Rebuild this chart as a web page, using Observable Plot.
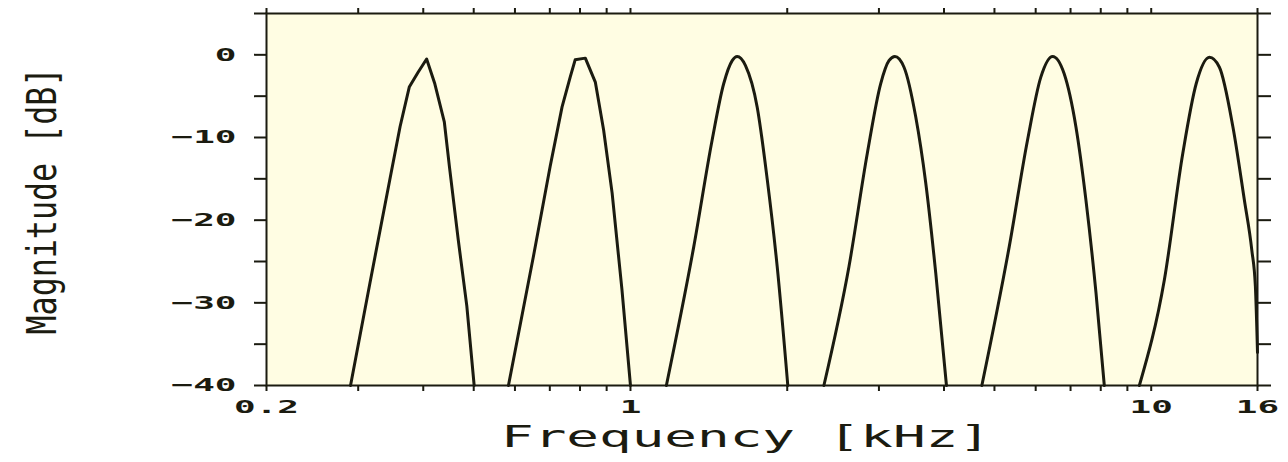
<!DOCTYPE html>
<html>
<head>
<meta charset="utf-8">
<script src="https://cdn.jsdelivr.net/npm/d3@7"></script>
<script src="https://cdn.jsdelivr.net/npm/@observablehq/plot@0.6"></script>
<style>
  html, body { margin: 0; padding: 0; background: #ffffff; }
  #chart svg { display: block; }
</style>
</head>
<body>
<div id="chart"></div>
<script>
// ---- Data ----
const band1Freq = [0.290, 0.316, 0.345, 0.361, 0.376, 0.391, 0.406, 0.421, 0.439, 0.449, 0.467, 0.485, 0.501];
const band1Db   = [-40, -27.6, -15.1, -8.7, -3.9, -2.1, -0.5, -3.5, -8.1, -13.5, -22.4, -30.4, -40];

const band2Freq = [0.583, 0.651, 0.701, 0.739, 0.766, 0.783, 0.819, 0.856, 0.888, 0.922, 0.963, 1.0];
const band2Db   = [-40, -24.4, -13.5, -6.3, -2.7, -0.6, -0.4, -3.3, -9.1, -16.7, -28.4, -40];

const band3Freq = [1.172, 1.323, 1.435, 1.510, 1.568, 1.603, 1.663, 1.751, 1.831, 1.913, 2.005];
const band3Db   = [-40, -23.2, -10.3, -3.5, -0.7, -0.2, -1.3, -6.3, -15.1, -25.6, -40];

const band4Freq = [2.352, 2.628, 2.850, 3.023, 3.136, 3.220, 3.352, 3.530, 3.690, 3.857, 4.044];
const band4Db   = [-40, -25.6, -11.9, -3.5, -0.7, -0.2, -1.5, -7.5, -15.5, -26.4, -40];

const band5Freq = [4.729, 5.338, 5.788, 6.138, 6.466, 6.806, 7.168, 7.494, 7.834, 8.127];
const band5Db   = [-40, -23.2, -10.3, -2.7, -0.2, -2.3, -8.7, -17.6, -28.8, -40];

const band6Freq = [9.49, 10.60, 11.50, 12.20, 12.94, 13.52, 14.35, 15.10, 15.60, 15.85, 16.0];
const band6Db   = [-40, -27.2, -11.9, -3.5, -0.3, -1.5, -8.7, -17.6, -23.6, -28.0, -36];

const xTickLabels = [0.2, 1, 10, 16];
const xTickMarks  = [0.2, 0.3, 0.4, 0.5, 0.6, 0.7, 0.8, 0.9, 1, 2, 3, 4, 5, 6, 7, 8, 9, 10, 16];
const yTickLabels = [0, -10, -20, -30, -40];
const yTickMarks  = [5, 0, -5, -10, -15, -20, -25, -30, -35, -40];

const xTitle = "Frequency [kHz]";
const yTitle = "Magnitude [dB]";

// ---- Build tables ----
function band(name, f, db) { return f.map((v, i) => ({band: name, freq: v, db: db[i]})); }
const jagged = [...band("b1", band1Freq, band1Db), ...band("b2", band2Freq, band2Db)];
const smooth = [
  ...band("b3", band3Freq, band3Db),
  ...band("b4", band4Freq, band4Db),
  ...band("b5", band5Freq, band5Db),
  ...band("b6", band6Freq, band6Db)
];

const ink = "#1b1b10";
const paper = "#fffde3";

const chart = Plot.plot({
  width: 1288,
  height: 462,
  marginLeft: 266,
  marginRight: 31,
  marginTop: 13,
  marginBottom: 77,
  style: {background: "#ffffff", color: ink, fontFamily: "'DejaVu Sans Mono', monospace", fontSize: "18px"},
  x: {type: "log", domain: [0.2, 16]},
  y: {domain: [-40, 5]},
  marks: [
    Plot.frame({fill: paper, stroke: "none"}),
    // left axis: labels + ticks
    Plot.axisY({ticks: yTickMarks, tickSize: 12, tickFormat: () => "", label: null, strokeWidth: 2}),
    Plot.axisY({ticks: yTickLabels, tickSize: 0, tickPadding: 30, label: null, fontWeight: "bold",
      tickFormat: d => d < 0 ? "\u2212" + (-d) : String(d)}),
    // right axis ticks
    Plot.axisY({anchor: "right", ticks: yTickMarks, tickSize: 13, tickFormat: () => "", label: null, strokeWidth: 2}),
    // bottom axis
    Plot.axisX({ticks: xTickMarks, tickSize: 6, tickFormat: () => "", label: null, strokeWidth: 2}),
    Plot.axisX({ticks: xTickLabels, tickSize: 0, tickPadding: 15, label: null, fontWeight: "bold",
      tickFormat: d => String(d)}),
    // top axis ticks
    Plot.axisX({anchor: "top", ticks: xTickMarks, tickSize: 6, tickFormat: () => "", label: null, strokeWidth: 2}),
    // filter responses
    Plot.line(jagged, {x: "freq", y: "db", z: "band", stroke: ink, strokeWidth: 3, curve: "linear"}),
    Plot.line(smooth, {x: "freq", y: "db", z: "band", stroke: ink, strokeWidth: 3, curve: "monotone-x"}),
    Plot.frame({stroke: ink, strokeWidth: 2}),
    // axis titles
    Plot.text([xTitle], {text: d => d, frameAnchor: "bottom", dx: -16, dy: 61, fontSize: 30, fill: ink}),
    Plot.text([yTitle], {text: d => d, frameAnchor: "left", fontSize: 26, fill: ink})
  ]
});

document.getElementById("chart").appendChild(chart);

// Plotter-style wide lettering: stretch the real text
d3.select(chart).selectAll("text").each(function () {
  const t = this.textContent;
  if (!t) return;
  const w = this.getComputedTextLength();
  if (t === xTitle) {
    this.setAttribute("textLength", 490);
    this.setAttribute("lengthAdjust", "spacingAndGlyphs");
  } else if (t === yTitle) {
    const g = this.parentNode;
    if (g && g.tagName.toLowerCase() === "g") g.removeAttribute("transform");
    ["x", "y", "dx", "dy"].forEach(a => this.removeAttribute(a));
    this.setAttribute("text-anchor", "middle");
    this.setAttribute("dy", "0.36em");
    this.setAttribute("transform", "translate(41,201) rotate(-90) scale(1,1.55)");
    this.setAttribute("textLength", 267);
    this.setAttribute("lengthAdjust", "spacingAndGlyphs");
  } else {
    this.setAttribute("textLength", w * 2.0);
    this.setAttribute("lengthAdjust", "spacingAndGlyphs");
  }
});
</script>
</body>
</html>
